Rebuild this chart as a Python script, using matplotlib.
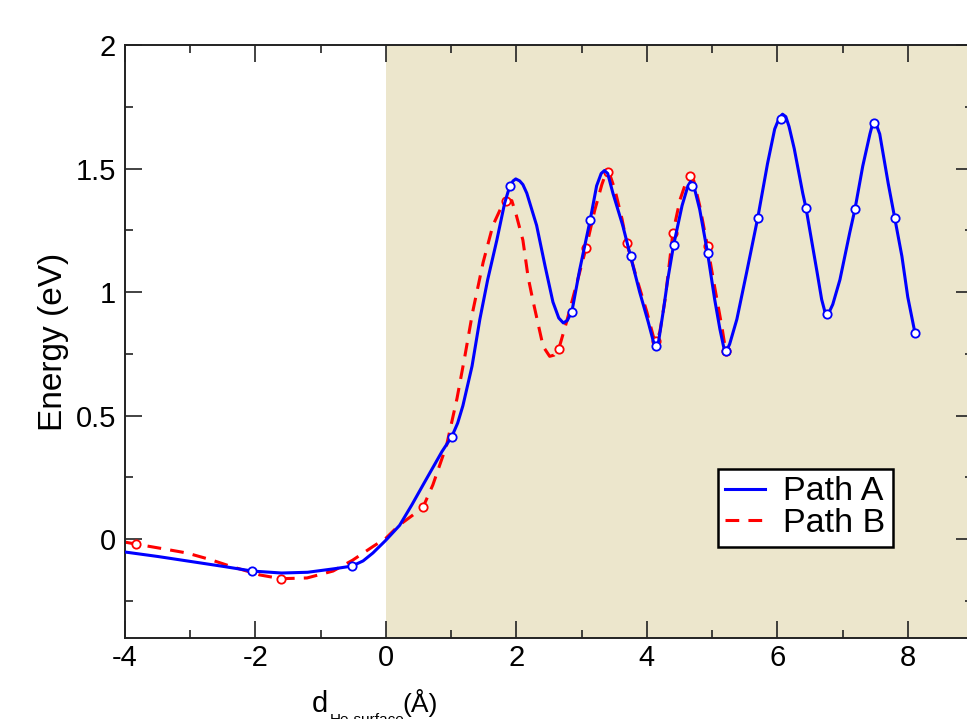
import matplotlib
matplotlib.use("Agg")
import matplotlib.pyplot as plt
from matplotlib.ticker import MultipleLocator, FuncFormatter

plt.rcParams['font.family'] = ['Liberation Sans', 'DejaVu Sans']
plt.rcParams['axes.unicode_minus'] = False

# Path A (blue) curve
pathA_x = [-4.0, -3.5, -3.0, -2.5, -2.05, -1.6, -1.2, -0.8, -0.52, -0.35, -0.2, 0.0,
           0.21, 0.4, 0.57, 0.86, 1.01, 1.10, 1.18, 1.32, 1.44, 1.56, 1.70, 1.82, 1.90,
           1.95, 1.99, 2.05, 2.10, 2.16, 2.31, 2.44, 2.56, 2.65, 2.72, 2.78, 2.85, 2.97, 3.13, 3.23, 3.30,
           3.35, 3.40, 3.48, 3.63, 3.75, 3.89, 4.02, 4.10, 4.14, 4.18, 4.25, 4.32, 4.41, 4.54, 4.63, 4.67, 4.72,
           4.81, 4.93, 5.04, 5.12, 5.18, 5.22, 5.27, 5.38, 5.53, 5.70, 5.85, 5.96, 6.03, 6.08, 6.13,
           6.18, 6.26, 6.39, 6.44, 6.61, 6.68, 6.73, 6.78, 6.85, 6.96, 7.11, 7.19, 7.31, 7.42,
           7.46, 7.50, 7.57, 7.70, 7.80, 7.91, 8.00, 8.11]
pathA_y = [-0.052, -0.070, -0.090, -0.110, -0.129, -0.137, -0.134, -0.120, -0.109, -0.088,
           -0.056, -0.004, 0.056, 0.14, 0.22, 0.355, 0.415, 0.47, 0.54, 0.70, 0.89, 1.05,
           1.21, 1.36, 1.43, 1.45, 1.458, 1.45, 1.435, 1.40, 1.27, 1.105, 0.96, 0.895, 0.875, 0.885, 0.92, 1.09,
           1.29, 1.43, 1.48, 1.492, 1.48, 1.40, 1.27, 1.145, 1.00, 0.88, 0.80, 0.78, 0.80, 0.92, 1.05, 1.19,
           1.35, 1.43, 1.447, 1.43, 1.335, 1.16, 0.97, 0.85, 0.775, 0.76, 0.79, 0.89, 1.08, 1.30, 1.52,
           1.66, 1.705, 1.72, 1.71, 1.67, 1.58, 1.40, 1.34, 1.08, 0.97, 0.92, 0.91, 0.95, 1.05, 1.24,
           1.335, 1.51, 1.64, 1.68, 1.69, 1.64, 1.44, 1.30, 1.145, 0.98, 0.835]
pathA_mx = [-2.05, -0.52, 1.01, 1.90, 2.85, 3.13, 3.75, 4.14, 4.41, 4.69, 4.93, 5.21,
            5.70, 6.05, 6.44, 6.76, 7.19, 7.48, 7.80, 8.11]
pathA_my = [-0.129, -0.109, 0.415, 1.43, 0.92, 1.29, 1.145, 0.78, 1.19, 1.43, 1.16, 0.76,
            1.30, 1.70, 1.34, 0.91, 1.335, 1.685, 1.30, 0.835]

# Path B (red) curve
pathB_x = [-4.0, -3.83, -3.5, -3.05, -2.7, -2.39, -1.93, -1.61, -1.21, -0.81, -0.51, -0.2,
           0.0, 0.2, 0.41, 0.57, 0.72, 0.93, 1.09, 1.21, 1.33, 1.49, 1.64, 1.78, 1.86,
           1.93, 2.00, 2.10, 2.18, 2.25, 2.41, 2.51, 2.58, 2.65, 2.77, 2.93, 3.07, 3.20, 3.31, 3.37, 3.42,
           3.51, 3.62, 3.69, 3.85, 4.00, 4.10, 4.15, 4.20, 4.28, 4.40, 4.51, 4.62, 4.67, 4.72, 4.81, 4.93, 5.04,
           5.15, 5.21]
pathB_y = [-0.012, -0.02, -0.035, -0.056, -0.082, -0.109, -0.145, -0.16, -0.157, -0.129,
           -0.085, -0.03, 0.004, 0.056, 0.097, 0.13, 0.22, 0.38, 0.57, 0.74, 0.92, 1.12,
           1.27, 1.35, 1.375, 1.37, 1.31, 1.21, 1.06, 0.97, 0.78, 0.74, 0.745, 0.77, 0.88, 1.04, 1.18,
           1.33, 1.435, 1.48, 1.485, 1.415, 1.295, 1.20, 1.05, 0.92, 0.82, 0.80, 0.84, 0.97, 1.24, 1.375,
           1.46, 1.47, 1.45, 1.35, 1.185, 1.02, 0.86, 0.76]
pathB_mx = [-3.83, -1.61, 0.57, 1.84, 2.65, 3.07, 3.40, 3.69, 4.14, 4.40, 4.66, 4.93, 5.21]
pathB_my = [-0.02, -0.16, 0.13, 1.37, 0.77, 1.18, 1.485, 1.20, 0.80, 1.24, 1.468, 1.185, 0.76]

x_ticks = [-4, -2, 0, 2, 4, 6, 8]
y_ticks = [0, 0.5, 1, 1.5, 2]

W, H = 967, 719
fig = plt.figure(figsize=(W / 100, H / 100), dpi=100)
ax = fig.add_axes([125 / W, (H - 638) / H, (973 - 125) / W, (638 - 45) / H])

ax.set_xlim(-4, 9)
ax.set_ylim(-0.4, 2)
ax.axvspan(0, 9, color='#ECE6CC', zorder=0, lw=0)

ax.plot(pathA_x, pathA_y, color='#0000FF', lw=2.2, label='Path A', zorder=3)
ax.plot(pathA_mx, pathA_my, ls='none', marker='o', ms=6, mfc='white', mec='#0000FF',
        mew=1.3, zorder=4)
ax.plot(pathB_x, pathB_y, color='#FF0000', lw=2.2, ls=(0, (4.5, 3)), label='Path B', zorder=2)
ax.plot(pathB_mx, pathB_my, ls='none', marker='o', ms=6, mfc='white', mec='#FF0000',
        mew=1.3, zorder=2.5)

ax.set_xticks(x_ticks)
ax.set_yticks(y_ticks)
ax.xaxis.set_minor_locator(MultipleLocator(1))
ax.yaxis.set_minor_locator(MultipleLocator(0.25))
ax.yaxis.set_major_formatter(FuncFormatter(lambda v, p: '%g' % v))
ax.xaxis.set_major_formatter(FuncFormatter(lambda v, p: '%g' % v))
ax.tick_params(which='both', direction='in', top=True, right=True, width=1.2,
               color='#222222', labelsize=21)
ax.tick_params(which='major', length=12)
ax.tick_params(which='minor', length=6)
ax.tick_params(axis='x', pad=4)
ax.tick_params(axis='y', pad=6.5)
for s in ax.spines.values():
    s.set_linewidth(1.4)
    s.set_color('#222222')

ax.set_ylabel('Energy (eV)', fontsize=24, labelpad=5)

# x label (partly cut off at the bottom of the picture)
fig.text(312 / W, 7 / H, 'd', fontsize=21, ha='left', va='baseline')
fig.text(330 / W, -5 / H, 'He-surface', fontsize=11, ha='left', va='baseline')
fig.text(402 / W, 7 / H, '(Å)', fontsize=19, ha='left', va='baseline')

leg = ax.legend(loc='upper left', bbox_to_anchor=((718 - 125) / (973 - 125), (638 - 469) / (638 - 45)),
                fontsize=24.5, frameon=True, fancybox=False, framealpha=1, edgecolor='black',
                handlelength=1.15, handletextpad=0.55, borderpad=0.22, labelspacing=0.02,
                borderaxespad=0)
leg.get_frame().set_linewidth(1.8)

fig.savefig('out.png', dpi=100)
